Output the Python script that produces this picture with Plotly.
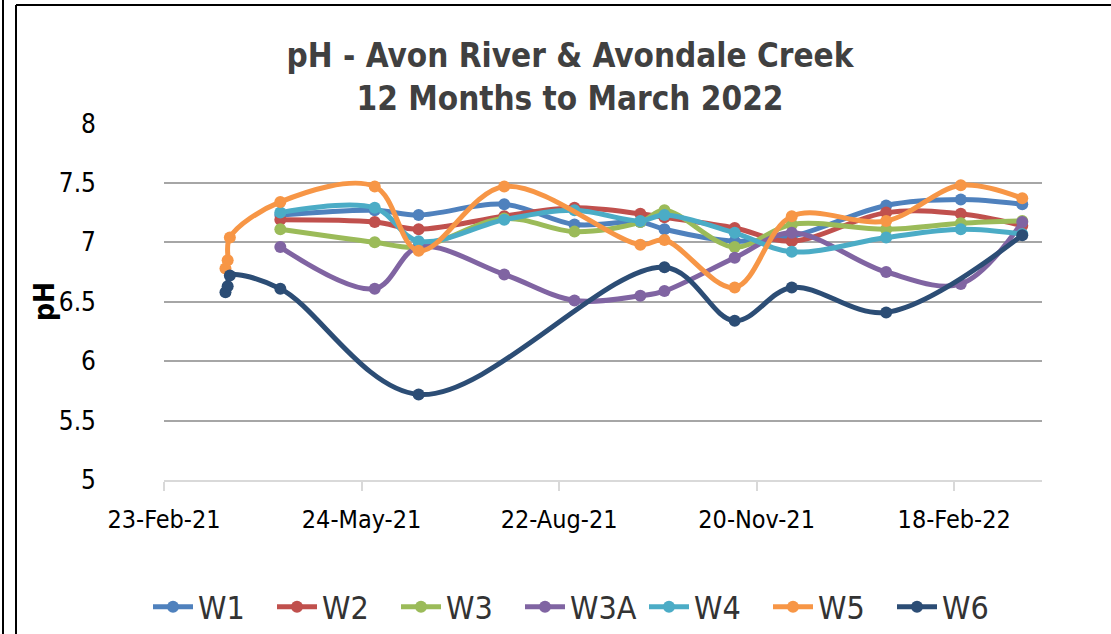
import plotly.graph_objects as go

# ---------------- data ----------------
survey_dates = ["2021-04-17", "2021-05-30", "2021-06-19", "2021-07-28", "2021-08-29",
                "2021-09-28", "2021-10-09", "2021-11-10", "2021-12-06", "2022-01-18",
                "2022-02-21", "2022-03-21"]
w1 = [7.23, 7.27, 7.23, 7.32, 7.15, 7.17, 7.11, 7.01, 7.05, 7.31, 7.36, 7.32]
w2 = [7.19, 7.17, 7.11, 7.22, 7.29, 7.24, 7.21, 7.12, 7.01, 7.25, 7.24, 7.14]
w3 = [7.11, 7.00, 6.96, 7.20, 7.09, 7.17, 7.27, 6.96, 7.15, 7.11, 7.16, 7.18]
w3a = [6.96, 6.61, 6.96, 6.73, 6.51, 6.55, 6.59, 6.87, 7.08, 6.75, 6.65, 7.17]
w4 = [7.25, 7.29, 7.01, 7.19, 7.27, 7.18, 7.23, 7.08, 6.92, 7.04, 7.11, 7.07]

w5_dates = ["2021-03-23", "2021-03-24", "2021-03-25", "2021-04-17", "2021-05-30",
            "2021-06-19", "2021-07-28", "2021-09-28", "2021-10-09", "2021-11-10",
            "2021-12-06", "2022-01-18", "2022-02-21", "2022-03-21"]
w5 = [6.78, 6.85, 7.04, 7.34, 7.47, 6.93, 7.47, 6.98, 7.02, 6.62, 7.22, 7.18, 7.48, 7.37]

w6_dates = ["2021-03-23", "2021-03-24", "2021-03-25", "2021-04-17", "2021-06-19",
            "2021-10-09", "2021-11-10", "2021-12-06", "2022-01-18", "2022-03-21"]
w6 = [6.58, 6.63, 6.72, 6.61, 5.72, 6.79, 6.34, 6.62, 6.41, 7.06]

tick_dates = ["2021-02-23", "2021-05-24", "2021-08-22", "2021-11-20", "2022-02-18"]
tick_labels = ["23-Feb-21", "24-May-21", "22-Aug-21", "20-Nov-21", "18-Feb-22"]
y_ticks = [5, 5.5, 6, 6.5, 7, 7.5, 8]
y_tick_labels = ["5", "5.5", "6", "6.5", "7", "7.5", "8"]

series = [
    ("W1", survey_dates, w1, "#4F81BD"),
    ("W2", survey_dates, w2, "#C0504D"),
    ("W3", survey_dates, w3, "#9BBB59"),
    ("W3A", survey_dates, w3a, "#8064A2"),
    ("W4", survey_dates, w4, "#4BACC6"),
    ("W5", w5_dates, w5, "#F79646"),
    ("W6", w6_dates, w6, "#2C4D75"),
]

# ---------------- layout constants ----------------
W, H = 1111, 634
ML, MR, MT, MB = 164, 69, 123, 154
PW, PH = W - ML - MR, H - MT - MB
FONT = "Liberation Sans Narrow, DejaVu Sans Condensed, Roboto, Arial, sans-serif"


def px_x(x):
    return (x - ML) / PW


def px_y(y):
    return (H - MB - y) / PH


fig = go.Figure()
for name, xs, ys, col in series:
    fig.add_trace(go.Scatter(
        x=xs, y=ys, name=name, mode="lines+markers",
        line=dict(color=col, width=5, shape="spline", smoothing=1.0),
        marker=dict(color=col, size=12),
    ))

shapes = [
    # outer frame of the chart
    dict(type="line", xref="paper", yref="paper", x0=px_x(16), x1=px_x(1115),
         y0=px_y(5), y1=px_y(5), line=dict(color="black", width=2)),
    dict(type="line", xref="paper", yref="paper", x0=px_x(16), x1=px_x(16),
         y0=px_y(5), y1=px_y(640), line=dict(color="black", width=2)),
    dict(type="line", xref="paper", yref="paper", x0=px_x(3), x1=px_x(3),
         y0=px_y(-5), y1=px_y(640), line=dict(color="black", width=2)),
]

annotations = [
    dict(text="<b>pH</b>", xref="paper", yref="paper", x=px_x(44), y=px_y(302),
         xanchor="center", yanchor="middle", textangle=-90, showarrow=False,
         font=dict(family=FONT, size=28, color="#000000")),
]

fig.update_layout(
    template="none",
    width=W, height=H,
    margin=dict(l=ML, r=MR, t=MT, b=MB, autoexpand=False),
    paper_bgcolor="white", plot_bgcolor="white",
    font=dict(family=FONT, color="#000000"),
    title=dict(
        text="<b>pH - Avon River &amp; Avondale Creek<br>12 Months to March 2022</b>",
        x=570 / W, xref="container", xanchor="center",
        y=1 - 67 / H, yref="container", yanchor="top",
        font=dict(family=FONT, size=33, color="#404040"),
    ),
    xaxis=dict(
        type="date",
        range=["2021-02-23", "2022-03-30"],
        tickmode="array", tickvals=tick_dates, ticktext=tick_labels,
        showgrid=False, zeroline=False,
        showline=True, linecolor="#D9D9D9", linewidth=2,
        ticks="outside", ticklen=9, tickwidth=2, tickcolor="#D9D9D9",
        tickfont=dict(size=25, color="#000000"),
        ticklabelstandoff=7,
        automargin=False,
    ),
    yaxis=dict(
        range=[5, 8.004],
        tickmode="array", tickvals=y_ticks, ticktext=y_tick_labels,
        showgrid=True, gridcolor="#A6A6A6", gridwidth=2,
        zeroline=False, showline=False, ticks="",
        tickfont=dict(size=26, color="#000000"),
        ticklabelstandoff=67,
        automargin=False,
    ),
    legend=dict(
        orientation="h",
        xref="container", x=582 / W, xanchor="center",
        yref="container", y=1 - 607 / H, yanchor="middle",
        font=dict(size=32, color="#333333"),
        bgcolor="rgba(0,0,0,0)",
        itemwidth=40,
        entrywidth=69, entrywidthmode="pixels",
        tracegroupgap=0,
    ),
    showlegend=True,
    shapes=shapes,
    annotations=annotations,
)

fig.write_html("out.html", config={"displayModeBar": False},
               post_script="document.body.style.margin='0';")
